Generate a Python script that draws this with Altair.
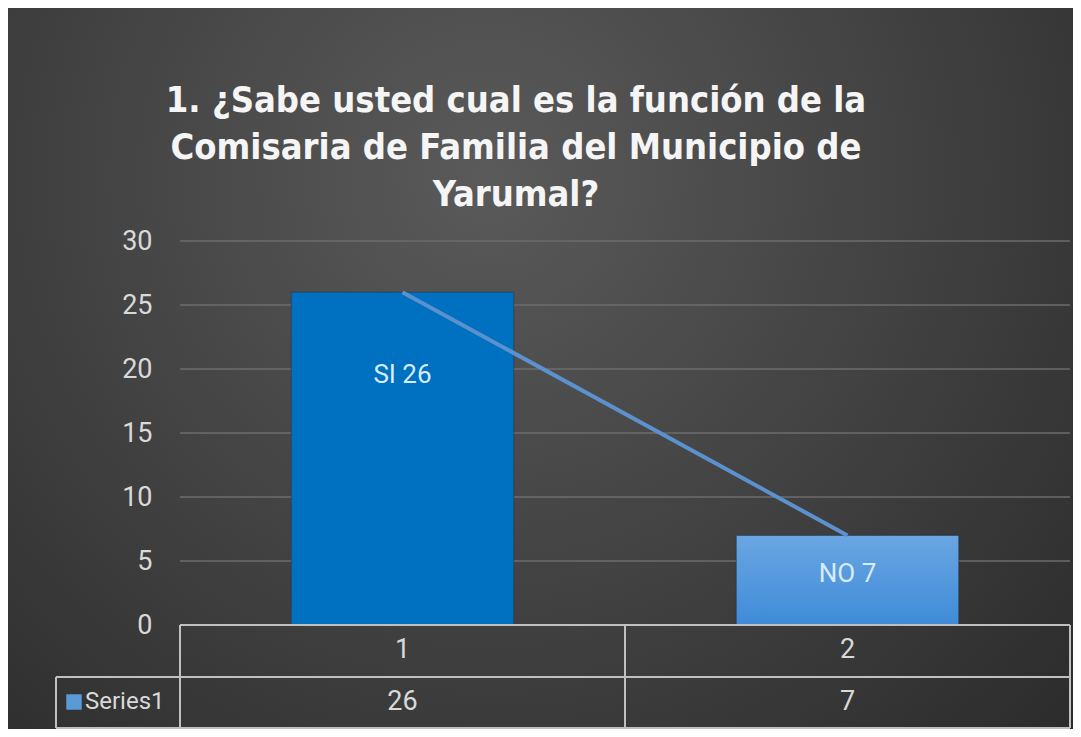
import altair as alt
import pandas as pd

# ---- data ----
CATEGORIES = [1, 2]
VALUES = [26, 7]
BAR_LABELS = ["SI 26", "NO 7"]
SERIES_NAME = "Series1"
TITLE_LINES = [
    "1. ¿Sabe usted cual es la función de la",
    "Comisaria de Familia del Municipio de",
    "Yarumal?",
]
Y_TICKS = [0, 5, 10, 15, 20, 25, 30]

BAR1_COLOR = "#0070C0"
BAR2_TOP, BAR2_BOTTOM = "#6aa6e2", "#3f8bd8"
KEY_COLOR = "#5B9BD5"
LABEL_DY = [83, 39]   # style: label offset below bar top

W, H = 890, 384
PAD_L, PAD_T = 172, 233
CANVAS_W, CANVAS_H = 1065, 721

df = pd.DataFrame({"idx": CATEGORIES, "value": VALUES, "label": BAR_LABELS})
ticks = pd.DataFrame({"value": Y_TICKS})
one = pd.DataFrame({"k": [0]})

SMALL = "Roboto, sans-serif"
TITLE_FONT = "DejaVu Sans Condensed, DejaVu Sans, sans-serif"
TXT = "#d9d9d9"
LINE = "#c0c0c0"

xscale = alt.Scale(paddingInner=0, paddingOuter=0)
xenc = alt.X("idx:O", scale=xscale, axis=None)
yscale = alt.Scale(domain=[0, 30], nice=False)
yaxis = alt.Axis(
    values=Y_TICKS, grid=False, domain=False, ticks=False, title=None,
    labelPadding=28, labelFontSize=27, labelColor=TXT, labelFont=SMALL,
    zindex=1,
)
yenc = alt.Y("value:Q", scale=yscale, axis=yaxis)

bg = alt.Chart(one).mark_rect(
    fill=alt.Gradient(
        gradient="radial",
        x1=0.45, y1=0.32, x2=0.45, y2=0.32, r1=0, r2=0.78,
        stops=[alt.GradientStop(offset=0, color="#5a5a5a"),
               alt.GradientStop(offset=1, color="#2a2a2a")],
    ),
    clip=False,
).encode(
    x=alt.value(-PAD_L), x2=alt.value(CANVAS_W - PAD_L),
    y=alt.value(-PAD_T), y2=alt.value(CANVAS_H - PAD_T),
)

grid = alt.Chart(ticks).mark_rule(color="#6c6c6c", strokeWidth=1.5).encode(
    y=yenc, x=alt.value(0), x2=alt.value(W),
)

bar1 = alt.Chart(df).transform_filter(alt.datum.idx == CATEGORIES[0]).mark_bar(
    width=alt.RelativeBandSize(0.5), fill=BAR1_COLOR,
    stroke="#1f3b55", strokeWidth=1, strokeOpacity=0.6,
).encode(x=xenc, y=yenc)
bar2 = alt.Chart(df).transform_filter(alt.datum.idx == CATEGORIES[1]).mark_bar(
    width=alt.RelativeBandSize(0.5),
    fill=alt.Gradient(
        gradient="linear", x1=0, y1=0, x2=0, y2=1,
        stops=[alt.GradientStop(offset=0, color=BAR2_TOP),
               alt.GradientStop(offset=1, color=BAR2_BOTTOM)],
    ),
    stroke="#1f3b55", strokeWidth=1, strokeOpacity=0.6,
).encode(x=xenc, y=yenc)

line = alt.Chart(df).mark_line(color="#5b91cf", strokeWidth=4).encode(x=xenc, y=yenc)

labels = [
    alt.Chart(df).transform_filter(alt.datum.idx == c).mark_text(
        baseline="middle", dy=dy, fontSize=26, font=SMALL, color="#d8ecff"
    ).encode(x=xenc, y=yenc, text="label:N")
    for c, dy in zip(CATEGORIES, LABEL_DY)
]

title = alt.Chart(one).mark_text(
    align="center", baseline="middle", lineHeight=47, fontSize=36,
    fontWeight="bold", font=TITLE_FONT, clip=False, color="#f5f5f5",
).encode(x=alt.value(336), y=alt.value(-140), text=alt.value(TITLE_LINES))

# ---- data table below the plot ----
ROW1_Y, ROW_MID, ROW_BOT, ROW2_Y = H + 25, H + 52, H + 103, H + 77
LEFT_CELL = -124

vlines = alt.Chart(df).mark_rule(color=LINE, strokeWidth=2, clip=False).encode(
    x=alt.X("idx:O", bandPosition=0, scale=xscale, axis=None),
    y=alt.value(H), y2=alt.value(ROW_BOT),
)
vline_end = alt.Chart(df).transform_filter(alt.datum.idx == CATEGORIES[-1]).mark_rule(
    color=LINE, strokeWidth=2, clip=False
).encode(
    x=alt.X("idx:O", bandPosition=1, scale=xscale, axis=None),
    y=alt.value(H), y2=alt.value(ROW_BOT),
)
vline_left = alt.Chart(one).mark_rule(color=LINE, strokeWidth=2, clip=False).encode(
    x=alt.value(LEFT_CELL), y=alt.value(ROW_MID), y2=alt.value(ROW_BOT)
)
hline_top = alt.Chart(one).mark_rule(color=LINE, strokeWidth=2, clip=False).encode(
    x=alt.value(0), x2=alt.value(W), y=alt.value(H)
)
hline_mid = alt.Chart(one).mark_rule(color=LINE, strokeWidth=2, clip=False).encode(
    x=alt.value(LEFT_CELL), x2=alt.value(W), y=alt.value(ROW_MID)
)
hline_bot = alt.Chart(one).mark_rule(color=LINE, strokeWidth=2, clip=False).encode(
    x=alt.value(LEFT_CELL), x2=alt.value(W), y=alt.value(ROW_BOT)
)

row1 = alt.Chart(df).mark_text(fontSize=27, font=SMALL, color=TXT, baseline="middle").encode(
    x=xenc, y=alt.value(ROW1_Y), text="idx:O"
)
row2 = alt.Chart(df).mark_text(fontSize=27, font=SMALL, color=TXT, baseline="middle").encode(
    x=xenc, y=alt.value(ROW2_Y), text="value:Q"
)
series_txt = alt.Chart(one).mark_text(
    fontSize=24, font=SMALL, color=TXT, baseline="middle", align="left", clip=False
).encode(x=alt.value(-95), y=alt.value(ROW2_Y), text=alt.value(SERIES_NAME))
series_key = alt.Chart(one).mark_square(
    filled=True, size=240, color=KEY_COLOR, opacity=1, clip=False
).encode(x=alt.value(-106), y=alt.value(ROW2_Y))

chart = alt.layer(
    bg, grid, bar1, bar2, line, *labels, title,
    vlines, vline_end, vline_left, hline_top, hline_mid, hline_bot,
    row1, row2, series_txt, series_key,
).properties(
    width=W, height=H,
    autosize=alt.AutoSizeParams(type="none"),
    padding={"left": PAD_L, "top": PAD_T, "right": CANVAS_W - PAD_L - W, "bottom": CANVAS_H - PAD_T - H},
    background="#3a3a3a",
).configure_view(stroke=None)

chart.save("out.html", embed_options={"renderer": "svg", "actions": False})
